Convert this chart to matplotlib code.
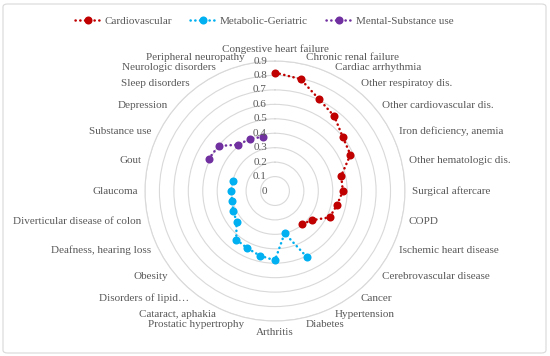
import numpy as np
import matplotlib
matplotlib.use("Agg")
import matplotlib.pyplot as plt
import matplotlib.transforms as mtrans
from matplotlib.patches import FancyBboxPatch

nan = np.nan

categories = [
    "Congestive heart failure", "Chronic renal failure", "Cardiac arrhythmia",
    "Other respiratoy dis.", "Other cardiovascular dis.", "Iron deficiency, anemia",
    "Other hematologic dis.", "Surgical aftercare", "COPD", "Ischemic heart disease",
    "Cerebrovascular disease", "Cancer", "Hypertension", "Diabetes", "Arthritis",
    "Prostatic hypertrophy", "Cataract, aphakia", "Disorders of lipid\u2026", "Obesity",
    "Deafness, hearing loss", "Diverticular disease of colon", "Glaucoma", "Gout",
    "Substance use", "Depression", "Sleep disorders", "Neurologic disorders",
    "Peripheral neuropathy",
]

cardiovascular = [0.82, 0.795, 0.705, 0.66, 0.60, 0.58, 0.47, 0.47, 0.44, 0.42, 0.325, 0.295,
                  nan, nan, nan, nan, nan, nan, nan, nan, nan, nan, nan, nan, nan, nan, nan, nan]
metabolic_geriatric = [nan, nan, nan, nan, nan, nan, nan, nan, nan, nan, nan, nan,
                       0.505, 0.30, 0.48, 0.46, 0.44, 0.43, 0.34, 0.32, 0.305, 0.305, 0.30,
                       nan, nan, nan, nan, nan]
mental_substance = [nan, nan, nan, nan, nan, nan, nan, nan, nan, nan, nan, nan, nan, nan,
                    nan, nan, nan, nan, nan, nan, nan, nan, nan,
                    0.51, 0.50, 0.41, 0.40, 0.385]

series_names = ["Cardiovascular", "Metabolic-Geriatric", "Mental-Substance use"]
series_colors = ["#C00000", "#00B0F0", "#7030A0"]
value_ticks = [0.0, 0.1, 0.2, 0.3, 0.4, 0.5, 0.6, 0.7, 0.8, 0.9]

TXT = "#595959"
FONT = "Liberation Serif"
FS = 8.0

fig = plt.figure(figsize=(5.5, 3.56), dpi=100)
fig.patch.set_facecolor("white")

ax = fig.add_axes([0.2636, 0.0983, 0.4727, 0.7303], projection="polar")
ax.set_facecolor("none")
n = len(categories)
theta = np.arange(n) * 2 * np.pi / n
ax.set_theta_zero_location("N")
ax.set_theta_direction(-1)
ax.set_ylim(0, 0.9)
ax.set_yticks(value_ticks[1:])
ax.set_yticklabels([])
ax.set_xticks([])
ax.grid(True, axis="y", color="#d9d9d9", lw=0.8)
ax.spines["polar"].set_color("#d9d9d9")
ax.spines["polar"].set_linewidth(0.8)

for vals, name, col in zip([cardiovascular, metabolic_geriatric, mental_substance],
                           series_names, series_colors):
    ax.plot(theta, vals, color=col, lw=1.8, ls=(0, (0.1, 1.8)), dash_capstyle="round",
            marker="o", ms=5.8, markeredgewidth=0, label=name, clip_on=False)

for t, lab in zip(theta, categories):
    s, c = np.sin(t), np.cos(t)
    if abs(s) < 0.05:
        ha = "center"
        va = "bottom" if c > 0 else "top"
    else:
        ha = "left" if s > 0 else "right"
        va = "center"
    ax.text(t, 0.95, lab, ha=ha, va=va, fontsize=FS, family=FONT, color=TXT, clip_on=False)

tick_tr = mtrans.offset_copy(ax.transData, fig=fig, x=-8, y=0, units="dots")
for v in value_ticks:
    ax.text(0, v, f"{v:g}", ha="right", va="center", fontsize=FS, family=FONT, color=TXT,
            transform=tick_tr, clip_on=False)

leg = fig.legend(loc="upper center", bbox_to_anchor=(0.48, 0.982), ncol=3, frameon=False,
                 prop={"family": FONT, "size": FS}, handlelength=2.4, columnspacing=1.6,
                 handletextpad=0.3)
for t in leg.get_texts():
    t.set_color(TXT)

fig.patches.append(FancyBboxPatch((3 / 550, 3 / 356), 543 / 550, 349 / 356,
                                  boxstyle="round,pad=0,rounding_size=0.008",
                                  transform=fig.transFigure, fill=False,
                                  ec="#d9d9d9", lw=0.8))

fig.savefig("out.png", dpi=100)
